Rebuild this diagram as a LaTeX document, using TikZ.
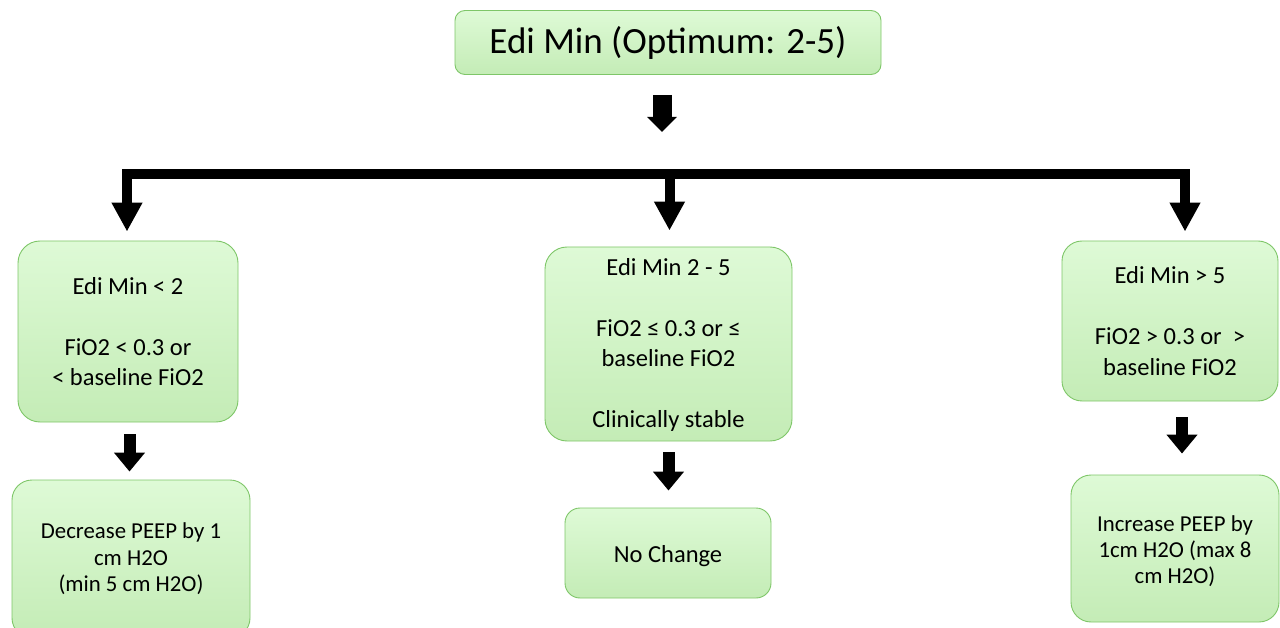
\documentclass[tikz,border=0pt]{standalone}
\usepackage{fontspec}
\setmainfont{Carlito}
\usetikzlibrary{arrows.meta}
\definecolor{boxtop}{RGB}{222,250,214}
\definecolor{boxbot}{RGB}{196,236,182}
\definecolor{boxline}{RGB}{126,198,104}
\tikzset{
  box/.style={draw=boxline, line width=0.9pt, top color=boxtop, bottom color=boxbot,
    align=center, inner sep=0pt, font=\fontsize{24.5}{30.5}\selectfont},
  blkbar/.style={line width=10pt, line join=miter,
    {Triangle[width=29pt,length=29pt]}-{Triangle[width=29pt,length=29pt]}},
  blkdrop/.style={line width=10pt, -{Triangle[width=29pt,length=29pt]}},
  blkstep/.style={line width=12pt, -{Triangle[width=30pt,length=19pt]}},
  blktop/.style={line width=19pt, -{Triangle[width=29pt,length=15pt]}},
}
% lower the printed text without changing the box the node sees
\newcommand{\droptext}[2]{\raisebox{-#1}[\height][\depth]{#2}}
\begin{document}
\begin{tikzpicture}[x=1pt,y=-1pt]
\useasboundingbox (0,0) rectangle (1280,628);

% top decision
\node[box, rounded corners=10pt, minimum width=426pt, minimum height=64pt,
      font=\fontsize{37}{40}\selectfont] (top) at (668,42.5) {Edi Min (Optimum: 2-5)};

% three condition boxes
\node[box, rounded corners=22pt, minimum width=220pt, minimum height=181pt] (L1) at (128,331.5)
  {Edi Min < 2\\ \\ FiO2 < 0.3 or\\ < baseline FiO2};
\node[box, rounded corners=22pt, minimum width=247pt, minimum height=194pt] (M1) at (668.5,344)
  {\droptext{1.5pt}{\begin{tabular}{@{}c@{}}Edi Min 2 - 5\\ \\ FiO2 ≤ 0.3 or ≤\\ baseline FiO2\\ \\ Clinically stable\end{tabular}}};
\node[box, rounded corners=20pt, minimum width=216pt, minimum height=160pt] (R1) at (1170,321)
  {Edi Min > 5\\ \\ FiO2 > 0.3 or ~>\\ baseline FiO2};

% action boxes
\node[box, rounded corners=20pt, minimum width=238pt, minimum height=158pt,
      font=\fontsize{22.8}{26.5}\selectfont] (L2) at (131,559)
  {Decrease PEEP by 1\\ cm H2O\\ (min 5 cm H2O)};
\node[box, rounded corners=15pt, minimum width=206pt, minimum height=90pt] (M2) at (668,553)
  {\droptext{3pt}{No Change}};
\node[box, rounded corners=20pt, minimum width=208pt, minimum height=147pt,
      font=\fontsize{22.8}{26}\selectfont] (R2) at (1175,548.5)
  {\droptext{4pt}{\begin{tabular}{@{}c@{}}Increase PEEP by\\ 1cm H2O (max 8\\ cm H2O)\end{tabular}}};

% branching bar
\coordinate (jL) at (127,174);
\coordinate (jM) at (669.5,174);
\coordinate (jR) at (1185,174);
\coordinate (topend) at (662,132);

\draw[blktop] ([xshift=-6pt,yshift=-20pt]top.south) -- (topend);
\draw[blkbar] (jL |- L1.north) ++(0,-9) -- (jL) -- (jR) -- ([yshift=9pt]jR |- R1.north);
\draw[blkdrop] (jM) -- ([yshift=16pt]jM |- M1.north);

% steps to actions
\draw[blkstep] ([xshift=1.5pt,yshift=-12pt]L1.south) -- ([xshift=1.5pt,yshift=8pt]L1.south |- L2.north);
\draw[blkstep] ([yshift=-11pt]M1.south) -- ([yshift=17pt]M1.south |- M2.north);
\draw[blkstep] ([xshift=12pt,yshift=-16pt]R1.south) -- ([xshift=12pt,yshift=21pt]R1.south |- R2.north);
\end{tikzpicture}
\end{document}
